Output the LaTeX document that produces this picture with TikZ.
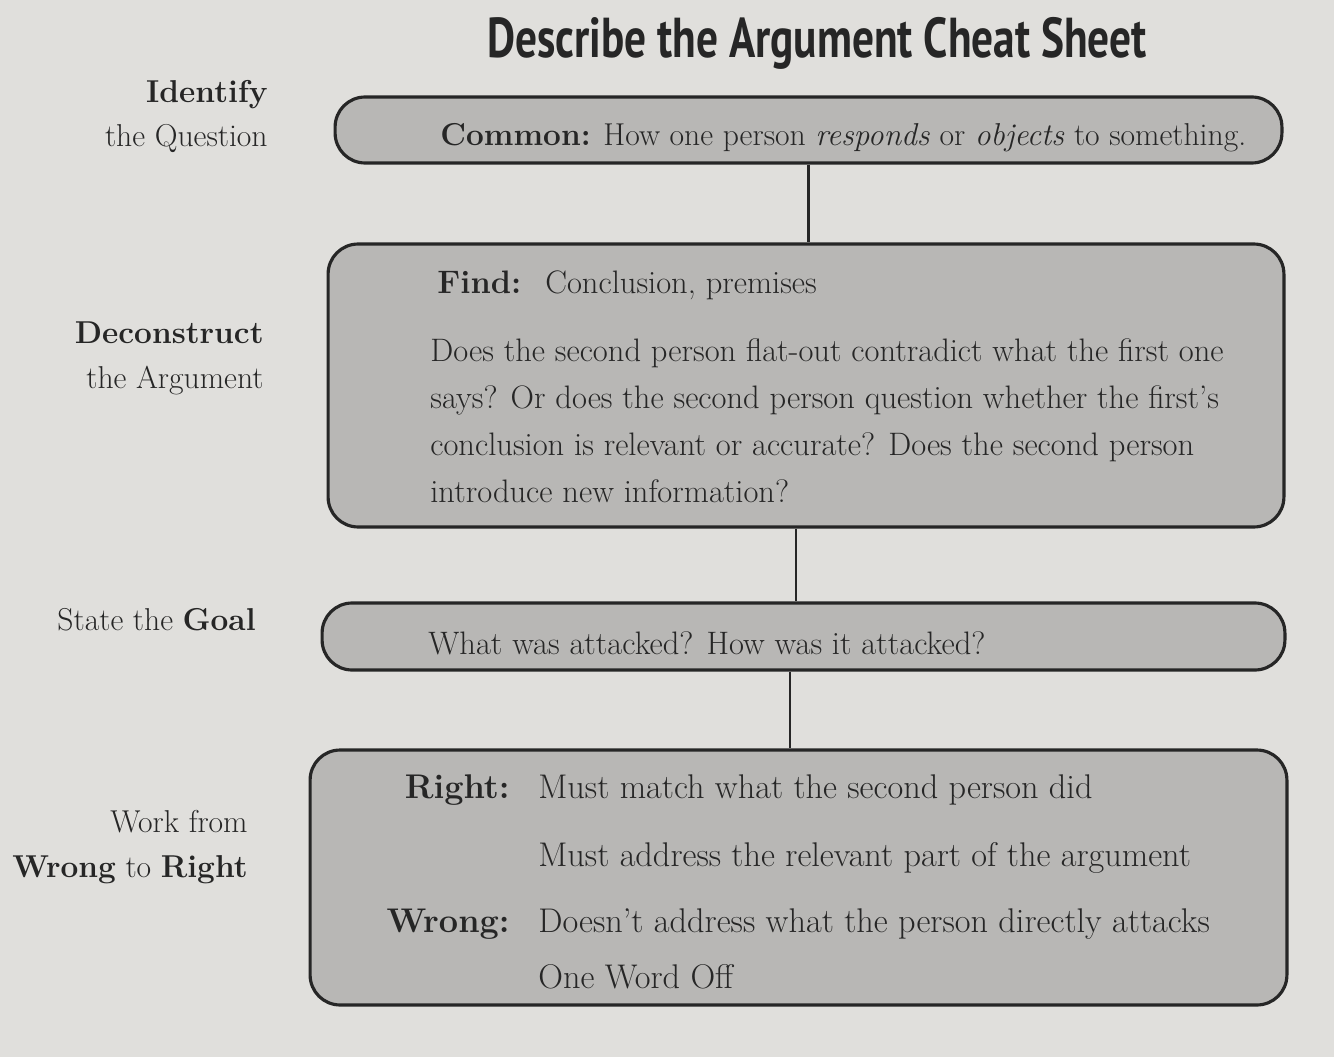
\documentclass[tikz,border=0pt]{standalone}
\usepackage{fontspec}
\usepackage{graphicx}
\newfontfamily\titlefont{PT Sans}
\usetikzlibrary{positioning}
\definecolor{pagebg}{RGB}{224,223,220}
\definecolor{panelfill}{RGB}{184,183,181}
\definecolor{ink}{RGB}{38,38,38}
\tikzstyle{panel}     = [draw=ink, fill=panelfill, line width=1.8pt, rounded corners=0.6cm, inner sep=0pt]
\tikzstyle{link}      = [draw=ink, line width=1.6pt]
\tikzstyle{boxtext}   = [text=ink, inner sep=0pt, align=left, font=\fontsize{18.5}{26.6}\selectfont]
\tikzstyle{bigtext}   = [boxtext, font=\fontsize{19.5}{26.6}\selectfont]
\tikzstyle{steplabel} = [text=ink, inner sep=0pt, align=right, font=\fontsize{18}{25.5}\selectfont]
\begin{document}
\begin{tikzpicture}[
        x=0.02cm,
        y=-0.02cm
    ]

        \useasboundingbox (0,0) rectangle (1334,1057);
        \fill[pagebg] (0,0) rectangle (1334,1057);

        % Nadpis
        \node[text=ink, inner sep=0pt, anchor=base] (title) at (817,58)
            {\resizebox{13.2cm}{\height}{\titlefont\bfseries\fontsize{32}{32}\selectfont Describe the Argument Cheat Sheet}};

        % Kroky vlevo
        \node[steplabel, anchor=base east] (identify) at (268,147)
            {\textbf{Identify}\\the Question};
        \node[steplabel, anchor=base east] (deconstruct) at (264,388)
            {\textbf{Deconstruct}\\the Argument};
        \node[steplabel, anchor=base east] (statelabel) at (256,630)
            {State the \textbf{Goal}};
        \node[steplabel, anchor=base east] (worklabel) at (248,877)
            {Work from\\\textbf{Wrong} to \textbf{Right}};

        % Panely
        \node[panel, minimum width=18.94cm, minimum height=1.32cm] (common) at (808.5,130) {};
        \node[panel, minimum width=19.12cm, minimum height=5.66cm] (argument) at (806,385.5) {};
        \node[panel, minimum width=19.26cm, minimum height=1.34cm] (goal) at (803.5,636.5) {};
        \node[panel, minimum width=19.54cm, minimum height=5.1cm] (answers) at (798.5,877.5) {};

        % Spojnice
        \draw[link] (common.south) -- (common.south |- argument.north);
        \draw[link] ([xshift=-0.2cm]argument.south) -- ([xshift=-0.2cm]argument.south |- goal.north);
        \draw[link] ([xshift=-0.27cm]goal.south) -- ([xshift=-0.27cm]goal.south |- answers.north);

        % Texty v panelech
        \node[boxtext, anchor=base west, font=\fontsize{18}{26.6}\selectfont] (commontext) at (440,146)
            {\textbf{Common:} How one person \textit{responds} or \textit{objects} to something.};

        \node[boxtext, anchor=base west] (findlabel) at (437,294) {\textbf{Find:}};
        \node[boxtext, anchor=base west] (findtext) at (545,294) {Conclusion, premises};
        \node[boxtext, anchor=base west] (questions) at (430,502)
            {Does the second person flat-out contradict what the first one\\
            says? Or does the second person question whether the first's\\
            conclusion is relevant or accurate? Does the second person\\
            introduce new information?};

        \node[boxtext, anchor=base west] (goaltext) at (428,654)
            {What was attacked? How was it attacked?};

        \node[bigtext, anchor=base east] (rightlabel) at (510,798) {\textbf{Right:}};
        \node[bigtext, anchor=base west] (right1) at (538,798) {Must match what the second person did};
        \node[bigtext, anchor=base west] (right2) at (538,866) {Must address the relevant part of the argument};
        \node[bigtext, anchor=base east] (wronglabel) at (510,932) {\textbf{Wrong:}};
        \node[bigtext, anchor=base west] (wrong1) at (538,932) {Doesn't address what the person directly attacks};
        \node[bigtext, anchor=base west] (wrong2) at (538,988) {One Word Off};

    \end{tikzpicture}
\end{document}
